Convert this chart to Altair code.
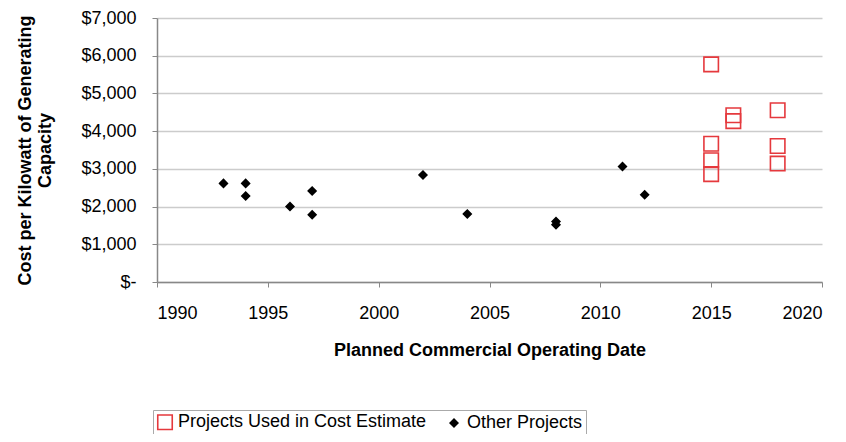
import altair as alt
import pandas as pd

est_years = [2015, 2015, 2015, 2015, 2016, 2016, 2018, 2018, 2018]
est_costs = [5770, 3665, 3230, 2860, 4420, 4265, 4555, 3605, 3140]

other_years = [1993, 1994, 1994, 1996, 1997, 1997, 2002, 2004, 2008, 2008, 2011, 2012]
other_costs = [2615, 2615, 2280, 2000, 2415, 1780, 2840, 1805, 1605, 1520, 3060, 2315]

series = ["Projects Used in Cost Estimate", "Other Projects"]

df = pd.DataFrame({
    "year": est_years + other_years,
    "cost": est_costs + other_costs,
    "series": [series[0]] * len(est_years) + [series[1]] * len(other_years),
})

FONT = "Liberation Sans"

chart = alt.Chart(df).mark_point(strokeWidth=1.6, opacity=1).encode(
    x=alt.X("year:Q", title="Planned Commercial Operating Date",
            scale=alt.Scale(domain=[1990, 2020], nice=False, zero=False),
            axis=alt.Axis(values=[1990, 1995, 2000, 2005, 2010, 2015, 2020],
                          format="d", grid=False)),
    y=alt.Y("cost:Q", title=["Cost per Kilowatt of Generating", "Capacity"],
            scale=alt.Scale(domain=[0, 7000], nice=False),
            axis=alt.Axis(values=[0, 1000, 2000, 3000, 4000, 5000, 6000, 7000],
                          labelExpr="datum.value == 0 ? '$-' : '$' + format(datum.value, ',')",
                          grid=True, titlePadding=26)),
    color=alt.Color("series:N", title=None,
                    scale=alt.Scale(domain=series, range=["#e5393d", "#000000"]),
                    legend=alt.Legend(orient="none", legendX=-4, legendY=392,
                                      direction="horizontal", strokeColor="#aaaaaa",
                                      padding=3, symbolSize=110, symbolStrokeWidth=1.6,
                                      labelFontSize=18, labelFont=FONT, labelColor="#000",
                                      labelLimit=0, columnPadding=18, symbolType="square")),
    fill=alt.Fill("series:N", title=None,
                  scale=alt.Scale(domain=series, range=["transparent", "#000000"])),
    shape=alt.Shape("series:N", title=None,
                    scale=alt.Scale(domain=series, range=["square", "diamond"])),
    size=alt.Size("series:N", legend=None,
                  scale=alt.Scale(domain=series, range=[210, 60])),
).properties(
    width=665, height=264,
    autosize=alt.AutoSizeParams(type="none"),
    padding={"left": 149, "top": 10, "right": 16, "bottom": 152},
).configure_view(
    stroke=None
).configure_axis(
    labelFont=FONT, labelFontSize=18, labelColor="#000",
    titleFont=FONT, titleFontSize=18, titleFontWeight="bold", titleColor="#000",
    domainColor="#888888", domainWidth=1.5, tickColor="#888888", tickSize=5,
    gridColor="#cccccc", gridWidth=1.5,
).configure_axisY(
    labelPadding=16,
).configure_axisX(
    labelPadding=17, titlePadding=19,
)

chart.save("out.html", embed_options={"renderer": "svg", "actions": False})
